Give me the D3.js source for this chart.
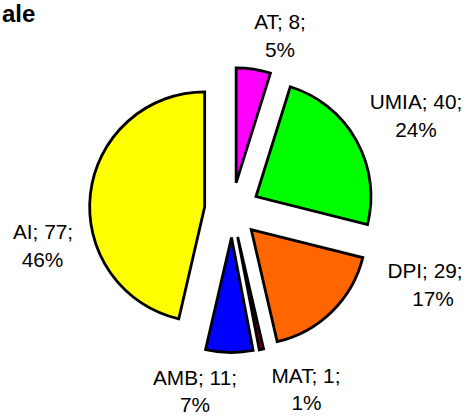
<!DOCTYPE html>
<html>
<head>
<meta charset="utf-8">
<script src="https://cdn.jsdelivr.net/npm/d3@7"></script>
<style>
  html, body { margin: 0; padding: 0; background: #fff; }
  svg { display: block; }
  text { font-family: "Liberation Sans", Arial, Helvetica, sans-serif; fill: #000; }
</style>
</head>
<body>
<svg id="chart" width="473" height="417"></svg>
<script>
// Categories and values, clockwise from 12 o'clock
const categories = ["AT", "UMIA", "DPI", "MAT", "AMB", "AI"];
const values = [8, 40, 29, 1, 11, 77];
const colors = ["#FF00FF", "#00FF00", "#FF6600", "#800000", "#0000FF", "#FFFF00"];

// Data label anchors (centre x, first-line baseline y)
const labelPos = [
  [[280, 29], [280, 56.5]],
  [[416, 109], [416, 136.5]],
  [[425, 278], [433, 305.5]],
  [[306, 383], [306.5, 410]],
  [[195, 385], [195, 412]],
  [[43, 239], [42.5, 266.5]]
];

const title = "ale";

const svg = d3.select("#chart");
const cx = 232, cy = 210, radius = 115, explode = 27.5;

const total = d3.sum(values);
const pie = d3.pie().sort(null).value(d => d.value).startAngle(0).endAngle(2 * Math.PI);
const arc = d3.arc().innerRadius(0).outerRadius(radius);

const data = categories.map((c, i) => ({ name: c, value: values[i], color: colors[i], lab: labelPos[i] }));
const arcs = pie(data);

const g = svg.append("g").attr("transform", `translate(${cx},${cy})`);

g.selectAll("path.slice")
  .data(arcs)
  .join("path")
  .attr("class", "slice")
  .attr("d", arc)
  .attr("fill", d => d.data.color)
  .attr("stroke", "#000")
  .attr("stroke-width", 2.8)
  .attr("stroke-linejoin", "miter")
  .attr("transform", d => {
    const mid = (d.startAngle + d.endAngle) / 2;
    return `translate(${explode * Math.sin(mid)},${-explode * Math.cos(mid)})`;
  });

// Data labels: "name; value;" over the rounded percentage
arcs.forEach(d => {
  const pct = Math.round(d.data.value / total * 100) + "%";
  const lines = [`${d.data.name}; ${d.data.value};`, pct];
  lines.forEach((t, k) => {
    svg.append("text")
      .attr("x", d.data.lab[k][0])
      .attr("y", d.data.lab[k][1])
      .attr("text-anchor", "middle")
      .attr("font-size", 20.8)
      .text(t);
  });
});

// Chart title
svg.append("text")
  .attr("x", 2)
  .attr("y", 22)
  .attr("text-anchor", "start")
  .attr("font-size", 24)
  .attr("font-weight", "bold")
  .text(title);
</script>
</body>
</html>
